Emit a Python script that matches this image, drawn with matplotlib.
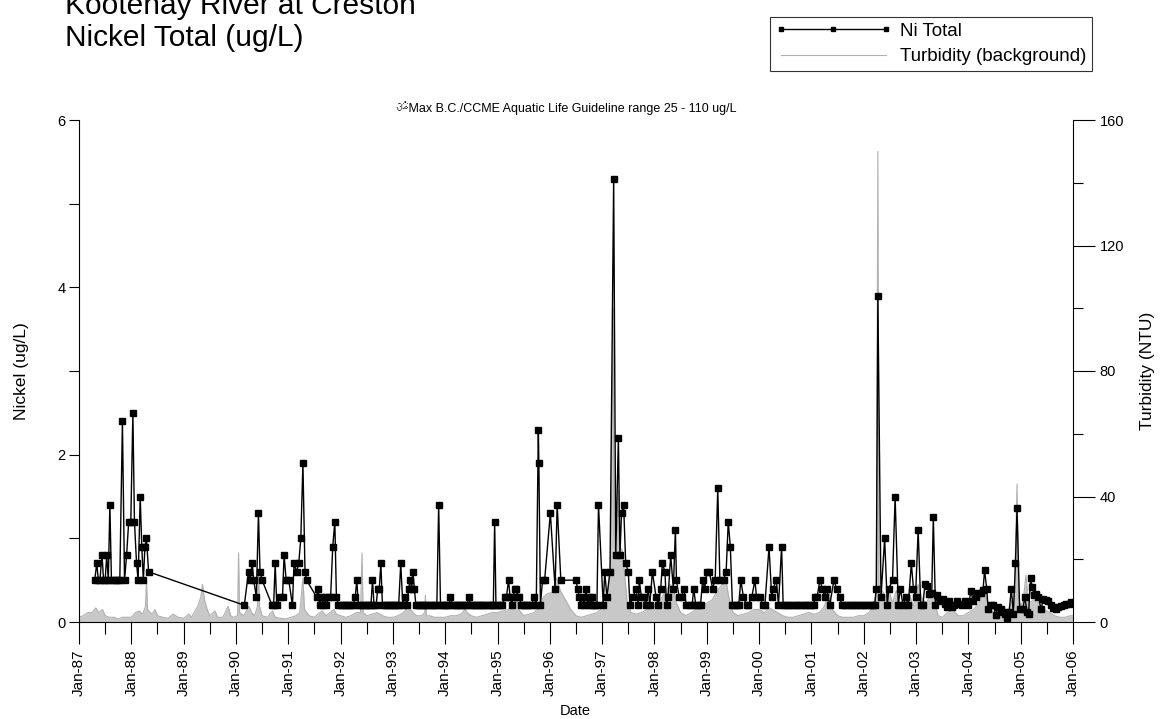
import numpy as np
import matplotlib
matplotlib.use("Agg")
import matplotlib.pyplot as plt
from matplotlib.lines import Line2D
from matplotlib import font_manager
from matplotlib.ft2font import FT2Font

plt.rcParams['font.family'] = ['Liberation Sans', 'DejaVu Sans']

# ---------------------------------------------------------------------------
# Total nickel (ug/L), (decimal year, value)
# ---------------------------------------------------------------------------
ni_1987_88 = [
    (1987.30, 0.5), (1987.34, 0.7), (1987.37, 0.5), (1987.40, 0.5), (1987.44, 0.8),
    (1987.47, 0.5), (1987.50, 0.5), (1987.53, 0.8), (1987.56, 0.5), (1987.59, 1.4),
    (1987.62, 0.5), (1987.66, 0.5), (1987.70, 0.5), (1987.74, 0.5), (1987.78, 0.5),
    (1987.83, 2.4), (1987.87, 0.5), (1987.91, 0.8), (1987.95, 1.2), (1987.99, 1.2),
    (1988.03, 2.5), (1988.06, 1.2), (1988.10, 0.7), (1988.13, 0.5), (1988.17, 1.5),
    (1988.20, 0.9), (1988.23, 0.5), (1988.26, 0.9), (1988.29, 1.0), (1988.33, 0.6),
]

ni_1990_91 = [
    (1990.16, 0.2), (1990.24, 0.6), (1990.27, 0.5), (1990.31, 0.7), (1990.34, 0.5),
    (1990.39, 0.3), (1990.43, 1.3), (1990.46, 0.6), (1990.50, 0.5), (1990.69, 0.2),
    (1990.72, 0.2), (1990.75, 0.7), (1990.78, 0.2), (1990.85, 0.3), (1990.89, 0.3),
    (1990.92, 0.8), (1990.96, 0.5), (1991.01, 0.5), (1991.08, 0.2), (1991.11, 0.7),
    (1991.16, 0.6), (1991.20, 0.7), (1991.24, 1.0), (1991.28, 1.9), (1991.32, 0.6),
    (1991.35, 0.5), (1991.54, 0.3), (1991.57, 0.4), (1991.60, 0.2), (1991.63, 0.3),
    (1991.67, 0.2), (1991.70, 0.3), (1991.73, 0.2), (1991.77, 0.3), (1991.81, 0.3),
    (1991.85, 0.9), (1991.89, 1.2), (1991.92, 0.3),
]

ni_1992_94 = [
    (1991.96, 0.2), (1992.00, 0.2), (1992.04, 0.2), (1992.08, 0.2), (1992.12, 0.2),
    (1992.16, 0.2), (1992.20, 0.2), (1992.24, 0.2), (1992.28, 0.3), (1992.31, 0.5),
    (1992.34, 0.2), (1992.38, 0.2), (1992.42, 0.2), (1992.46, 0.2), (1992.50, 0.2),
    (1992.54, 0.2), (1992.58, 0.2), (1992.61, 0.5), (1992.64, 0.2), (1992.68, 0.2),
    (1992.71, 0.4), (1992.74, 0.4), (1992.77, 0.7), (1992.80, 0.2), (1992.84, 0.2),
    (1992.88, 0.2), (1992.92, 0.2), (1992.96, 0.2), (1993.00, 0.2), (1993.04, 0.2),
    (1993.08, 0.2), (1993.11, 0.2), (1993.15, 0.7), (1993.19, 0.2), (1993.23, 0.3),
    (1993.27, 0.2), (1993.30, 0.4), (1993.33, 0.5), (1993.36, 0.4), (1993.38, 0.6),
    (1993.41, 0.4), (1993.44, 0.2), (1993.48, 0.2), (1993.52, 0.2), (1993.56, 0.2),
    (1993.60, 0.2), (1993.64, 0.2), (1993.68, 0.2), (1993.72, 0.2), (1993.76, 0.2),
    (1993.80, 0.2), (1993.84, 0.2), (1993.875, 1.4), (1993.91, 0.2), (1993.95, 0.2),
    (1993.99, 0.2), (1994.03, 0.2), (1994.07, 0.2), (1994.10, 0.3), (1994.14, 0.2),
    (1994.18, 0.2), (1994.22, 0.2), (1994.26, 0.2), (1994.30, 0.2), (1994.34, 0.2),
    (1994.38, 0.2), (1994.42, 0.2), (1994.45, 0.3), (1994.49, 0.2), (1994.53, 0.2),
    (1994.57, 0.2), (1994.61, 0.2), (1994.65, 0.2), (1994.69, 0.2), (1994.73, 0.2),
    (1994.77, 0.2), (1994.81, 0.2), (1994.85, 0.2), (1994.89, 0.2), (1994.92, 0.2),
    (1994.945, 1.2), (1994.97, 0.2),
]

ni_1995_98 = [
    (1995.01, 0.2), (1995.05, 0.2), (1995.09, 0.2), (1995.14, 0.3), (1995.17, 0.3),
    (1995.21, 0.5), (1995.24, 0.3), (1995.27, 0.2), (1995.30, 0.3), (1995.33, 0.4),
    (1995.36, 0.4), (1995.39, 0.3), (1995.42, 0.3), (1995.45, 0.2), (1995.49, 0.2),
    (1995.53, 0.2), (1995.57, 0.2), (1995.61, 0.2), (1995.65, 0.2), (1995.70, 0.3),
    (1995.74, 0.2), (1995.78, 2.3), (1995.79, 1.9), (1995.82, 0.2), (1995.86, 0.5),
    (1995.90, 0.5), (1996.01, 1.3), (1996.10, 0.4), (1996.14, 1.4), (1996.21, 0.5),
    (1996.50, 0.5), (1996.53, 0.4), (1996.56, 0.3), (1996.59, 0.2), (1996.62, 0.3),
    (1996.66, 0.2), (1996.69, 0.4), (1996.72, 0.2), (1996.75, 0.3), (1996.78, 0.2),
    (1996.81, 0.3), (1996.84, 0.2), (1996.87, 0.2), (1996.90, 0.2), (1996.93, 1.4),
    (1997.02, 0.2), (1997.05, 0.6), (1997.09, 0.3), (1997.15, 0.6), (1997.22, 5.3),
    (1997.26, 0.8), (1997.31, 2.2), (1997.34, 0.8), (1997.37, 1.3), (1997.41, 1.4),
    (1997.45, 0.7), (1997.50, 0.6), (1997.53, 0.2), (1997.59, 0.3), (1997.65, 0.4),
    (1997.69, 0.2), (1997.71, 0.5), (1997.75, 0.3), (1997.80, 0.3), (1997.84, 0.2),
    (1997.88, 0.4), (1997.91, 0.2), (1997.96, 0.6), (1998.03, 0.3), (1998.07, 0.2),
    (1998.12, 0.4), (1998.15, 0.7), (1998.20, 0.6), (1998.23, 0.2), (1998.26, 0.3),
    (1998.31, 0.8), (1998.36, 0.4), (1998.40, 1.1), (1998.42, 0.5), (1998.47, 0.3),
    (1998.52, 0.3), (1998.56, 0.4), (1998.61, 0.2), (1998.67, 0.2), (1998.72, 0.2),
    (1998.75, 0.4), (1998.79, 0.2), (1998.84, 0.2), (1998.88, 0.2), (1998.92, 0.5),
    (1998.96, 0.4),
]

ni_1999_02 = [
    (1999.00, 0.6), (1999.05, 0.6), (1999.11, 0.4), (1999.16, 0.5), (1999.21, 1.6),
    (1999.25, 0.5), (1999.32, 0.5), (1999.37, 0.6), (1999.41, 1.2), (1999.45, 0.9),
    (1999.49, 0.2), (1999.53, 0.2), (1999.57, 0.2), (1999.61, 0.2), (1999.65, 0.5),
    (1999.70, 0.3), (1999.76, 0.2), (1999.79, 0.2), (1999.86, 0.3), (1999.92, 0.5),
    (1999.95, 0.3), (2000.02, 0.3), (2000.07, 0.2), (2000.11, 0.2), (2000.19, 0.9),
    (2000.24, 0.3), (2000.27, 0.4), (2000.33, 0.5), (2000.37, 0.2), (2000.43, 0.9),
    (2000.46, 0.2), (2000.50, 0.2), (2000.55, 0.2), (2000.60, 0.2), (2000.65, 0.2),
    (2000.70, 0.2), (2000.75, 0.2), (2000.80, 0.2), (2000.85, 0.2), (2000.90, 0.2),
    (2000.95, 0.2), (2001.00, 0.2), (2001.04, 0.2), (2001.07, 0.3), (2001.11, 0.3),
    (2001.16, 0.5), (2001.21, 0.4), (2001.25, 0.3), (2001.29, 0.4), (2001.35, 0.2),
    (2001.43, 0.5), (2001.48, 0.4), (2001.54, 0.3), (2001.58, 0.2), (2001.63, 0.2),
    (2001.68, 0.2), (2001.73, 0.2), (2001.78, 0.2), (2001.83, 0.2), (2001.88, 0.2),
    (2001.93, 0.2), (2001.98, 0.2), (2002.03, 0.2), (2002.08, 0.2), (2002.13, 0.2),
    (2002.18, 0.2), (2002.21, 0.2), (2002.24, 0.4), (2002.27, 3.9), (2002.33, 0.3),
    (2002.40, 1.0), (2002.45, 0.2), (2002.48, 0.4), (2002.55, 0.5), (2002.60, 1.5),
    (2002.66, 0.2), (2002.70, 0.4), (2002.75, 0.2), (2002.81, 0.3), (2002.85, 0.2),
    (2002.91, 0.7), (2002.95, 0.4), (2002.99, 0.3),
]

ni_2003_05 = [
    (2003.04, 1.1), (2003.09, 0.2), (2003.13, 0.2), (2003.17, 0.45), (2003.21, 0.43),
    (2003.25, 0.33), (2003.30, 0.35), (2003.33, 1.25), (2003.37, 0.2), (2003.40, 0.32),
    (2003.46, 0.25), (2003.51, 0.28), (2003.55, 0.22), (2003.59, 0.18), (2003.63, 0.25),
    (2003.68, 0.18), (2003.72, 0.2), (2003.78, 0.25), (2003.83, 0.22), (2003.87, 0.2),
    (2003.93, 0.25), (2004.00, 0.2), (2004.05, 0.37), (2004.09, 0.25), (2004.14, 0.3),
    (2004.19, 0.35), (2004.24, 0.35), (2004.28, 0.38), (2004.31, 0.62), (2004.35, 0.4),
    (2004.38, 0.15), (2004.43, 0.2), (2004.48, 0.2), (2004.52, 0.08), (2004.57, 0.18),
    (2004.62, 0.15), (2004.67, 0.12), (2004.70, 0.1), (2004.74, 0.05), (2004.78, 0.12),
    (2004.82, 0.4), (2004.86, 0.1), (2004.90, 0.7), (2004.93, 1.36), (2004.98, 0.15),
    (2005.04, 0.15), (2005.08, 0.3), (2005.12, 0.12), (2005.15, 0.1), (2005.19, 0.53),
    (2005.22, 0.42), (2005.26, 0.32), (2005.30, 0.34), (2005.34, 0.3), (2005.39, 0.15),
    (2005.43, 0.28), (2005.48, 0.26), (2005.53, 0.25), (2005.58, 0.2), (2005.62, 0.17),
    (2005.67, 0.16), (2005.72, 0.18), (2005.77, 0.19), (2005.82, 0.2), (2005.87, 0.21),
    (2005.92, 0.22), (2005.96, 0.24),
]

# ---------------------------------------------------------------------------
# Turbidity (NTU), (decimal year, value)
# ---------------------------------------------------------------------------
turb_1987_91 = [
    (1987.00, 1.5), (1987.08, 2.0), (1987.17, 3.0), (1987.25, 3.0), (1987.32, 4.5),
    (1987.38, 3.0), (1987.45, 4.0), (1987.50, 2.0), (1987.58, 1.5), (1987.67, 1.5),
    (1987.75, 1.0), (1987.83, 1.5), (1987.92, 1.5), (1988.00, 1.5), (1988.08, 3.0),
    (1988.15, 3.5), (1988.22, 2.5), (1988.27, 5.0), (1988.29, 13.0), (1988.31, 4.0),
    (1988.36, 3.0), (1988.40, 2.5), (1988.45, 4.0), (1988.50, 2.0), (1988.60, 1.5),
    (1988.70, 1.2), (1988.80, 2.5), (1988.90, 1.5), (1989.00, 1.2), (1989.10, 2.5),
    (1989.15, 1.5), (1989.20, 3.0), (1989.27, 5.0), (1989.33, 8.0), (1989.36, 12.0),
    (1989.40, 7.0), (1989.45, 4.0), (1989.50, 2.0), (1989.60, 3.5), (1989.65, 1.5),
    (1989.75, 1.5), (1989.85, 5.0), (1989.90, 2.0), (1989.95, 1.5), (1990.03, 2.0),
    (1990.05, 22.0), (1990.07, 3.0), (1990.15, 2.0), (1990.25, 5.0), (1990.30, 3.0),
    (1990.36, 2.0), (1990.41, 5.0), (1990.43, 16.0), (1990.45, 5.0), (1990.50, 2.0),
    (1990.60, 1.5), (1990.70, 3.5), (1990.75, 1.5), (1990.85, 1.2), (1990.95, 1.0),
    (1991.05, 1.5), (1991.15, 2.0), (1991.22, 3.0), (1991.28, 14.0), (1991.31, 4.0),
    (1991.40, 2.0), (1991.50, 1.5), (1991.60, 3.0), (1991.65, 3.5), (1991.72, 2.0),
    (1991.80, 3.0), (1991.87, 4.0), (1991.92, 2.5),
]

turb_1992_96 = [
    (1992.00, 2.0), (1992.10, 1.5), (1992.20, 2.0), (1992.30, 3.0), (1992.38, 3.0),
    (1992.41, 22.0), (1992.43, 3.0), (1992.50, 2.0), (1992.60, 2.5), (1992.70, 3.0),
    (1992.80, 2.0), (1992.90, 1.5), (1993.00, 1.5), (1993.10, 2.0), (1993.20, 3.0),
    (1993.30, 5.0), (1993.38, 3.0), (1993.45, 2.0), (1993.55, 2.0), (1993.61, 3.0),
    (1993.62, 8.5), (1993.64, 2.0), (1993.70, 2.0), (1993.80, 1.5), (1993.90, 1.5),
    (1994.00, 1.5), (1994.10, 2.0), (1994.20, 2.0), (1994.30, 2.5), (1994.38, 4.0),
    (1994.42, 3.0), (1994.50, 2.0), (1994.60, 1.5), (1994.70, 2.0), (1994.80, 2.5),
    (1994.90, 3.0), (1995.00, 3.0), (1995.10, 3.5), (1995.20, 4.0), (1995.30, 5.0),
    (1995.36, 8.5), (1995.40, 4.0), (1995.50, 2.0), (1995.60, 2.5), (1995.70, 3.0),
    (1995.80, 5.0), (1995.88, 8.0), (1995.95, 9.0), (1996.05, 9.5), (1996.13, 14.0),
    (1996.20, 10.0), (1996.30, 7.0), (1996.40, 4.0), (1996.50, 2.0), (1996.60, 1.5),
    (1996.70, 2.0), (1996.80, 2.5), (1996.90, 3.0), (1996.97, 4.0),
]

turb_1997_01 = [
    (1997.05, 5.0), (1997.12, 10.0), (1997.17, 22.0), (1997.21, 100.0), (1997.23, 24.0),
    (1997.28, 22.0), (1997.31, 42.0), (1997.33, 24.0), (1997.38, 23.0), (1997.43, 15.0),
    (1997.48, 6.0), (1997.55, 3.0), (1997.65, 2.5), (1997.75, 3.0), (1997.85, 4.0),
    (1997.95, 5.0), (1998.05, 6.0), (1998.15, 8.0), (1998.22, 10.0), (1998.30, 12.0),
    (1998.36, 11.0), (1998.42, 6.0), (1998.50, 3.0), (1998.60, 2.0), (1998.70, 3.0),
    (1998.80, 4.0), (1998.90, 5.0), (1999.00, 6.0), (1999.10, 7.0), (1999.20, 10.0),
    (1999.30, 12.0), (1999.36, 14.0), (1999.42, 8.0), (1999.50, 3.0), (1999.60, 2.0),
    (1999.70, 2.5), (1999.80, 3.0), (1999.90, 4.0), (2000.00, 4.0), (2000.10, 3.0),
    (2000.20, 4.5), (2000.25, 4.0), (2000.35, 3.0), (2000.45, 2.0), (2000.55, 1.5),
    (2000.65, 1.5), (2000.75, 2.0), (2000.85, 2.5), (2000.95, 3.0), (2001.05, 2.5),
    (2001.15, 3.0), (2001.25, 5.0), (2001.33, 10.5), (2001.40, 4.0), (2001.50, 2.0),
    (2001.60, 1.5), (2001.70, 1.5), (2001.80, 1.5), (2001.90, 2.0),
]

turb_2002_05 = [
    (2002.00, 2.0), (2002.10, 3.0), (2002.18, 5.0), (2002.24, 10.0), (2002.27, 150.0),
    (2002.29, 12.0), (2002.35, 10.0), (2002.42, 8.0), (2002.50, 9.0), (2002.55, 6.0),
    (2002.62, 10.0), (2002.70, 5.0), (2002.80, 7.0), (2002.87, 9.0), (2002.95, 5.0),
    (2003.04, 12.0), (2003.10, 8.0), (2003.20, 6.0), (2003.30, 10.0), (2003.35, 7.0),
    (2003.42, 2.0), (2003.50, 1.5), (2003.60, 3.0), (2003.70, 4.0), (2003.80, 2.0),
    (2003.90, 2.0), (2004.00, 3.0), (2004.10, 4.0), (2004.20, 6.0), (2004.27, 10.0),
    (2004.32, 9.0), (2004.40, 4.0), (2004.50, 3.0), (2004.60, 2.0), (2004.70, 3.0),
    (2004.80, 5.0), (2004.88, 9.0), (2004.93, 44.0), (2004.96, 8.0), (2005.00, 5.0),
    (2005.05, 7.0), (2005.10, 15.0), (2005.15, 6.0), (2005.25, 7.0), (2005.35, 6.0),
    (2005.45, 4.0), (2005.55, 3.0), (2005.65, 2.0), (2005.75, 1.5), (2005.85, 1.5),
    (2005.95, 2.0), (2006.00, 2.0),
]

year_ticks = list(range(1987, 2007))
year_labels = ["Jan-87", "Jan-88", "Jan-89", "Jan-90", "Jan-91", "Jan-92", "Jan-93",
               "Jan-94", "Jan-95", "Jan-96", "Jan-97", "Jan-98", "Jan-99", "Jan-00",
               "Jan-01", "Jan-02", "Jan-03", "Jan-04", "Jan-05", "Jan-06"]

ni = np.array(ni_1987_88 + ni_1990_91 + ni_1992_94 + ni_1995_98 + ni_1999_02 + ni_2003_05)
turb = np.array(turb_1987_91 + turb_1992_96 + turb_1997_01 + turb_2002_05)


def family_with(char):
    """Return the name of an installed font that contains the given character."""
    code = ord(char)
    for entry in font_manager.fontManager.ttflist:
        try:
            if code in FT2Font(entry.fname).get_charmap():
                return entry.name
        except Exception:
            continue
    return None


W, H = 1160, 719
fig = plt.figure(figsize=(W / 100, H / 100), dpi=100)
ax = fig.add_axes([79 / W, 1 - 622 / H, 994 / W, 502 / H])
ax2 = ax.twinx()

# turbidity as a shaded background on the right axis
ax2.fill_between(turb[:, 0], turb[:, 1], 0, color="#c8c8c8", linewidth=0)
ax2.plot(turb[:, 0], turb[:, 1], color="#b0b0b0", linewidth=0.8)
ax2.set_ylim(0, 160)
ax2.set_yticks([0, 40, 80, 120, 160])
ax2.set_yticks([20, 60, 100, 140], minor=True)

ax.set_zorder(ax2.get_zorder() + 1)
ax.patch.set_visible(False)

ax.plot(ni[:, 0], ni[:, 1], color="black", linewidth=1.0, marker="s",
        markersize=5, markerfacecolor="black", markeredgecolor="black")
ax.set_xlim(1987, 2006)
ax.set_ylim(0, 6)
ax.set_yticks([0, 2, 4, 6])
ax.set_yticks([1, 3, 5], minor=True)
ax.set_xticks(year_ticks)
ax.set_xticklabels(year_labels, rotation=90)
ax.set_xticks([y + 0.5 for y in year_ticks[:-1]], minor=True)

for a in (ax, ax2):
    a.spines["top"].set_visible(False)
    for s in a.spines.values():
        s.set_linewidth(0.8)
ax.spines["right"].set_visible(False)
ax2.spines["left"].set_visible(False)
ax2.spines["bottom"].set_visible(False)

ax.tick_params(axis="x", which="major", length=16, width=0.8, labelsize=11, pad=4)
ax.tick_params(axis="x", which="minor", length=8.5, width=0.8)
ax.tick_params(axis="y", which="major", length=7.5, width=0.8, labelsize=10.5, pad=2)
ax.tick_params(axis="y", which="minor", length=7.5, width=0.8)
ax2.tick_params(axis="y", which="major", length=16, width=0.8, labelsize=10.5, pad=3)
ax2.tick_params(axis="y", which="minor", length=7.5, width=0.8)

ax.set_ylabel("Nickel (ug/L)", fontsize=12.5)
ax2.set_ylabel("Turbidity (NTU)", fontsize=12.5)
ax.yaxis.set_label_coords(-0.050, 0.5)
ax2.yaxis.set_label_coords(1.067, 0.5)
fig.text(575 / W, 1 - 711 / H, "Date", ha="center", va="center", fontsize=10.5)

# titles
fig.text(65 / W, 1 - 14 / H, "Kootenay River at Creston", fontsize=21.5, va="baseline")
fig.text(65 / W, 1 - 46 / H, "Nickel Total (ug/L)", fontsize=21.5, va="baseline")

# guideline note
om_family = family_with("\u0950")
families = ["Liberation Sans"] + ([om_family] if om_family else []) + ["DejaVu Sans"]
ax.text((396 - 79) / 994, (622 - 108) / 502,
        "\u0950Max B.C./CCME Aquatic Life Guideline range 25 - 110 ug/L",
        transform=ax.transAxes, fontsize=9, va="center", ha="left", family=families)

# legend
handles = [
    Line2D([], [], color="black", linewidth=1.0, marker="s", markersize=3.5),
    Line2D([], [], color="#b0b0b0", linewidth=0.8),
]
leg = fig.legend(handles, ["Ni Total", "Turbidity (background)"],
                 loc="upper right", bbox_to_anchor=(1092 / W, 1 - 17 / H),
                 numpoints=3, handlelength=6.2, fontsize=13.5, frameon=True,
                 fancybox=False, edgecolor="black", borderaxespad=0,
                 borderpad=0.3, labelspacing=0.45, handletextpad=0.45)
leg.get_frame().set_linewidth(0.8)

fig.savefig("out.png", dpi=100)
